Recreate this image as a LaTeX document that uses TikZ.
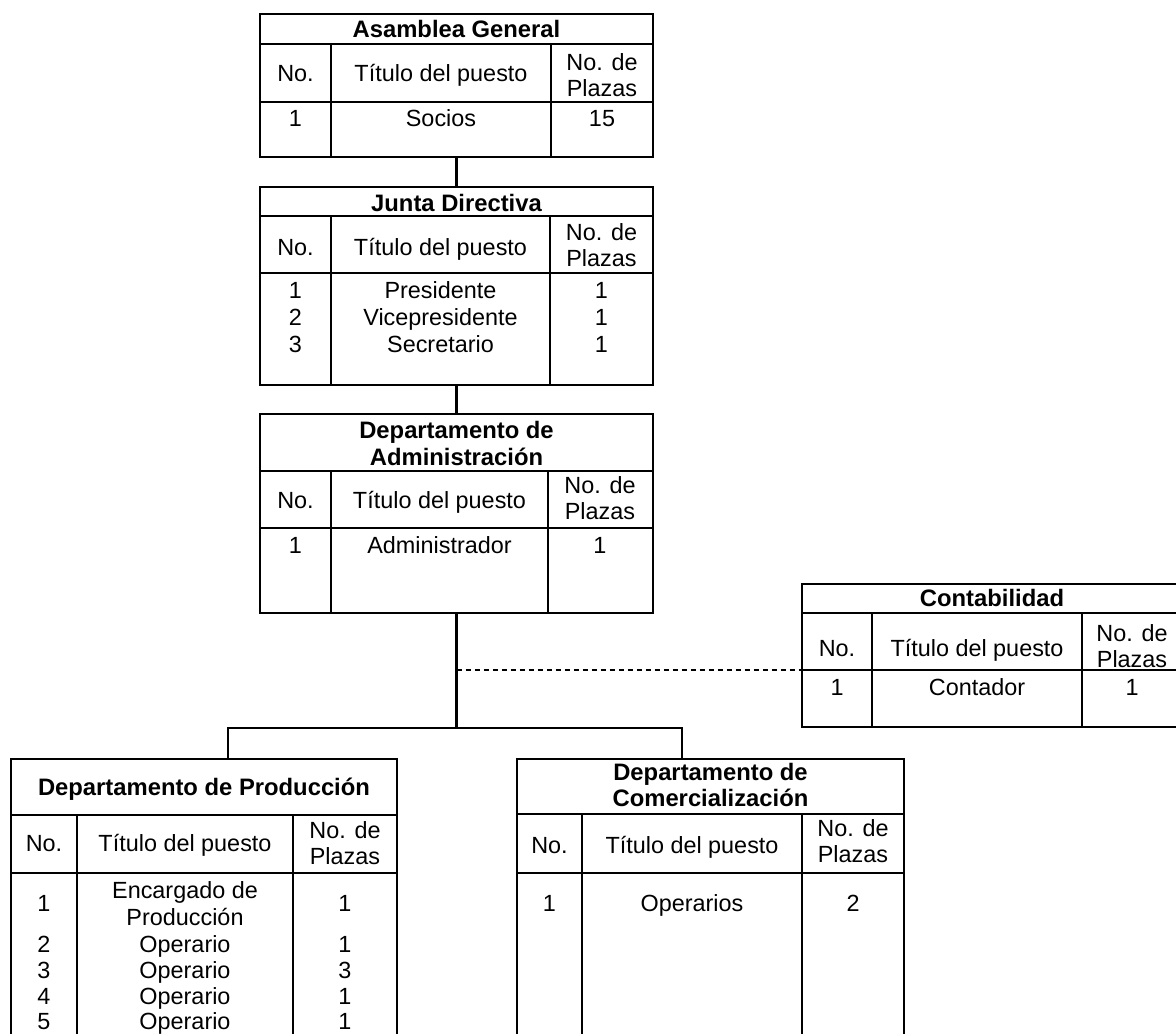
\documentclass[tikz,border=0pt]{standalone}
\usepackage{fontspec}
\setmainfont{Liberation Sans}
\usetikzlibrary{fit}
\begin{document}
\begin{tikzpicture}[x=1pt,y=-1pt,
  frame/.style={draw, line width=1.6pt, inner sep=0pt, rectangle},
  grid/.style={line width=1.4pt},
  conn/.style={line width=2.2pt},
  dashconn/.style={line width=1.3pt, dash pattern=on 5pt off 4pt},
  txt/.style={inner sep=0pt, anchor=base, font=\fontsize{23.4}{26.5}\selectfont},
  ttl/.style={txt, font=\fontsize{23.8}{26.5}\selectfont\bfseries}]
\useasboundingbox (0,0) rectangle (1176,1034);

% ---------- Asamblea General ----------
\node[frame, fit={(260,14) (653,157)}] (A) {};
\draw[grid] (260,44) -- (653,44) (260,102) -- (653,102) (331,44) -- (331,157) (551,44) -- (551,157);
\node[ttl] (At) at (456.5,37) {Asamblea General};
\node[txt] (Ah1) at (295.5,81) {No.};
\node[txt] (Ah2) at (441,81) {Título del puesto};
\node[txt] (Ah3a) at (602,70) {No. de};
\node[txt] (Ah3b) at (602,96.5) {Plazas};
\node[txt] (Ad1) at (295.5,126) {1};
\node[txt] (Ad2) at (441,126) {Socios};
\node[txt] (Ad3) at (602,126) {15};

% ---------- Junta Directiva ----------
\node[frame, fit={(260,187) (653,385)}] (J) {};
\draw[grid] (260,216) -- (653,216) (260,273) -- (653,273) (331,216) -- (331,385) (550,216) -- (550,385);
\node[ttl] (Jt) at (456.5,211) {Junta Directiva};
\node[txt] (Jh1) at (295.5,255) {No.};
\node[txt] (Jh2) at (440.5,255) {Título del puesto};
\node[txt] (Jh3a) at (601.5,240) {No. de};
\node[txt] (Jh3b) at (601.5,266.5) {Plazas};
\node[txt] (Ja1) at (295.5,298) {1};
\node[txt] (Ja2) at (440.5,298) {Presidente};
\node[txt] (Ja3) at (601.5,298) {1};
\node[txt] (Jb1) at (295.5,325) {2};
\node[txt] (Jb2) at (440.5,325) {Vicepresidente};
\node[txt] (Jb3) at (601.5,325) {1};
\node[txt] (Jc1) at (295.5,352) {3};
\node[txt] (Jc2) at (440.5,352) {Secretario};
\node[txt] (Jc3) at (601.5,352) {1};

% ---------- Departamento de Administración ----------
\node[frame, fit={(260,414) (653,613)}] (D) {};
\draw[grid] (260,471) -- (653,471) (260,528) -- (653,528) (331,471) -- (331,613) (548,471) -- (548,613);
\node[ttl] (Dt1) at (456.5,438) {Departamento de};
\node[ttl] (Dt2) at (456.5,465) {Administración};
\node[txt] (Dh1) at (295.5,508) {No.};
\node[txt] (Dh2) at (439.5,508) {Título del puesto};
\node[txt] (Dh3a) at (600,493) {No. de};
\node[txt] (Dh3b) at (600,519.5) {Plazas};
\node[txt] (Dd1) at (295.5,553) {1};
\node[txt] (Dd2) at (439.5,553) {Administrador};
\node[txt] (Dd3) at (600,553) {1};

% ---------- Contabilidad ----------
\node[frame, fit={(802,584) (1182,727)}] (C) {};
\draw[grid] (802,613) -- (1182,613) (802,670) -- (1182,670) (872,613) -- (872,727) (1082,613) -- (1082,727);
\node[ttl] (Ct) at (992,606) {Contabilidad};
\node[txt] (Ch1) at (837,656) {No.};
\node[txt] (Ch2) at (977,656) {Título del puesto};
\node[txt] (Ch3a) at (1132,641) {No. de};
\node[txt] (Ch3b) at (1132,667.5) {Plazas};
\node[txt] (Cd1) at (837,695) {1};
\node[txt] (Cd2) at (977,695) {Contador};
\node[txt] (Cd3) at (1132,695) {1};

% ---------- Departamento de Producción ----------
\node[frame, fit={(11,759) (397,1045)}] (P) {};
\draw[grid] (11,815) -- (397,815) (11,873) -- (397,873) (77,815) -- (77,1045) (293,815) -- (293,1045);
\node[ttl] (Pt) at (204,795) {Departamento de Producción};
\node[txt] (Ph1) at (44,851) {No.};
\node[txt] (Ph2) at (185,851) {Título del puesto};
\node[txt] (Ph3a) at (345,838) {No. de};
\node[txt] (Ph3b) at (345,864.5) {Plazas};
\node[txt] (Pa1) at (44,911.5) {1};
\node[txt] (Pa2a) at (185,898.5) {Encargado de};
\node[txt] (Pa2b) at (185,925) {Producción};
\node[txt] (Pa3) at (345,911.5) {1};
\node[txt] (Pb1) at (44,952) {2};
\node[txt] (Pb2) at (185,952) {Operario};
\node[txt] (Pb3) at (345,952) {1};
\node[txt] (Pc1) at (44,978) {3};
\node[txt] (Pc2) at (185,978) {Operario};
\node[txt] (Pc3) at (345,978) {3};
\node[txt] (Pd1) at (44,1004) {4};
\node[txt] (Pd2) at (185,1004) {Operario};
\node[txt] (Pd3) at (345,1004) {1};
\node[txt] (Pe1) at (44,1029) {5};
\node[txt] (Pe2) at (185,1029) {Operario};
\node[txt] (Pe3) at (345,1029) {1};

% ---------- Departamento de Comercialización ----------
\node[frame, fit={(517,759) (904,1045)}] (M) {};
\draw[grid] (517,814) -- (904,814) (517,873) -- (904,873) (582,814) -- (582,1045) (802,814) -- (802,1045);
\node[ttl] (Mt1) at (710.5,780) {Departamento de};
\node[ttl] (Mt2) at (710.5,806.5) {Comercialización};
\node[txt] (Mh1) at (549.5,853) {No.};
\node[txt] (Mh2) at (692,853) {Título del puesto};
\node[txt] (Mh3a) at (853,836) {No. de};
\node[txt] (Mh3b) at (853,862.5) {Plazas};
\node[txt] (Md1) at (549.5,911) {1};
\node[txt] (Md2) at (692,911) {Operarios};
\node[txt] (Md3) at (853,911) {2};

% ---------- connectors ----------
\coordinate (bar) at (456.5,728);
\coordinate (pin) at (228,759);
\coordinate (min) at (682,759);
\coordinate (dsh) at (456.5,670);
\draw[conn] (A.south) -- (J.north);
\draw[conn] (J.south) -- (D.north);
\draw[conn] (D.south) -- (bar);
\draw[conn] (pin) |- (bar) -| (min);
\draw[dashconn] (dsh) -- (dsh -| C.west);
\end{tikzpicture}
\end{document}
